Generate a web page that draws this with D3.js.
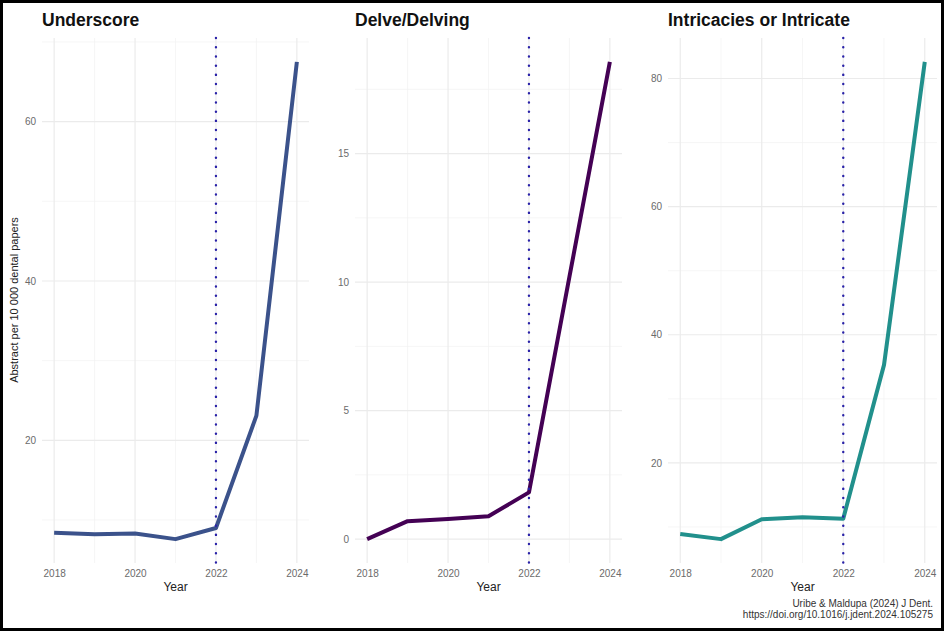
<!DOCTYPE html>
<html>
<head>
<meta charset="utf-8">
<script src="https://cdn.jsdelivr.net/npm/d3@7"></script>
<style>
  body { margin: 0; background: #fff; }
  svg { display: block; font-family: "Liberation Sans", Arial, sans-serif; }
</style>
</head>
<body>
<svg width="944" height="631"></svg>
<script>
// data
var years = [2018, 2019, 2020, 2021, 2022, 2023, 2024];
var underscore = [8.4, 8.2, 8.3, 7.6, 9.0, 23.1, 67.5];
var delve = [0, 0.70, 0.78, 0.89, 1.82, 10.2, 18.57];
var intricate = [8.9, 8.1, 11.2, 11.5, 11.3, 35.3, 82.6];
var titles = ["Underscore", "Delve/Delving", "Intricacies or Intricate"];
var colors = ["#3b528b", "#440154", "#21908c"];
var xTicks = [2018, 2020, 2022, 2024];
var cutYear = 2022;

var panels = [
  {title: titles[0], values: underscore, color: colors[0], left: 42, right: 309, major: [20, 40, 60], minor: [10, 30, 50, 70]},
  {title: titles[1], values: delve, color: colors[1], left: 355, right: 622, major: [0, 5, 10, 15], minor: [2.5, 7.5, 12.5, 17.5]},
  {title: titles[2], values: intricate, color: colors[2], left: 668, right: 937, major: [20, 40, 60, 80], minor: [10, 30, 50, 70]}
];

var svg = d3.select("svg");
var panelTop = 38, panelBottom = 563;

panels.forEach(function(p) {
  var ext = d3.extent(p.values);
  var pad = (ext[1] - ext[0]) * 0.05;

  var x = d3.scaleLinear()
    .domain([2018 - 0.3, 2024 + 0.3])
    .range([p.left, p.right]);

  var y = d3.scaleLinear()
    .domain([ext[0] - pad, ext[1] + pad])
    .range([panelBottom, panelTop]);

  var g = svg.append("g");

  // grid
  g.selectAll(".hminor").data(p.minor.filter(function(v) { return y(v) >= panelTop - 1 && y(v) <= panelBottom; }))
    .enter().append("line")
    .attr("x1", p.left).attr("x2", p.right)
    .attr("y1", function(d) { return y(d); }).attr("y2", function(d) { return y(d); })
    .attr("stroke", "#f2f2f2").attr("stroke-width", 0.7);
  g.selectAll(".vminor").data([2019, 2021, 2023])
    .enter().append("line")
    .attr("y1", panelTop).attr("y2", panelBottom)
    .attr("x1", function(d) { return x(d); }).attr("x2", function(d) { return x(d); })
    .attr("stroke", "#f2f2f2").attr("stroke-width", 0.7);
  g.selectAll(".hmajor").data(p.major)
    .enter().append("line")
    .attr("x1", p.left).attr("x2", p.right)
    .attr("y1", function(d) { return y(d); }).attr("y2", function(d) { return y(d); })
    .attr("stroke", "#ebebeb").attr("stroke-width", 1.2);
  g.selectAll(".vmajor").data(xTicks)
    .enter().append("line")
    .attr("y1", panelTop).attr("y2", panelBottom)
    .attr("x1", function(d) { return x(d); }).attr("x2", function(d) { return x(d); })
    .attr("stroke", "#ebebeb").attr("stroke-width", 1.2);

  // axes
  var xa = g.append("g")
    .attr("transform", "translate(0," + panelBottom + ")")
    .call(d3.axisBottom(x).tickValues(xTicks).tickFormat(d3.format("d")).tickSize(0).tickPadding(7));
  var ya = g.append("g")
    .attr("transform", "translate(" + p.left + ",0)")
    .call(d3.axisLeft(y).tickValues(p.major).tickFormat(d3.format("d")).tickSize(0).tickPadding(6));
  [xa, ya].forEach(function(a) {
    a.select(".domain").remove();
    a.selectAll("text").attr("fill", "#6b6b6b").attr("font-size", 10).attr("font-family", "Liberation Sans, Arial, sans-serif");
  });

  // data line
  var line = d3.line()
    .x(function(d, i) { return x(years[i]); })
    .y(function(d) { return y(d); });
  g.append("path")
    .attr("fill", "none")
    .attr("stroke", p.color)
    .attr("stroke-width", 4)
    .attr("stroke-linejoin", "round")
    .attr("d", line(p.values));

  // 2022 marker
  g.append("line")
    .attr("x1", x(cutYear)).attr("x2", x(cutYear))
    .attr("y1", panelTop).attr("y2", panelBottom)
    .attr("stroke", "#2a22a8")
    .attr("stroke-width", 2.4)
    .attr("stroke-linecap", "round")
    .attr("stroke-dasharray", "0.1,9.1");

  g.append("text")
    .attr("x", p.left).attr("y", 26)
    .attr("font-size", 17.5).attr("font-weight", "bold").attr("fill", "#111")
    .text(p.title);

  g.append("text")
    .attr("x", (p.left + p.right) / 2).attr("y", 591)
    .attr("text-anchor", "middle")
    .attr("font-size", 12).attr("fill", "#222")
    .text("Year");
});

svg.append("text")
  .attr("transform", "translate(18,300) rotate(-90)")
  .attr("text-anchor", "middle")
  .attr("font-size", 11).attr("fill", "#222")
  .text("Abstract per 10 000 dental papers");

svg.append("text")
  .attr("x", 933).attr("y", 607)
  .attr("text-anchor", "end").attr("font-size", 10).attr("fill", "#333")
  .text("Uribe & Maldupa (2024) J Dent.");
svg.append("text")
  .attr("x", 933).attr("y", 618)
  .attr("text-anchor", "end").attr("font-size", 10).attr("fill", "#333")
  .text("https://doi.org/10.1016/j.jdent.2024.105275");

// outer frame
svg.append("rect")
  .attr("x", 1.5).attr("y", 1.5)
  .attr("width", 941).attr("height", 628)
  .attr("fill", "none").attr("stroke", "#000").attr("stroke-width", 3);
</script>
</body>
</html>
